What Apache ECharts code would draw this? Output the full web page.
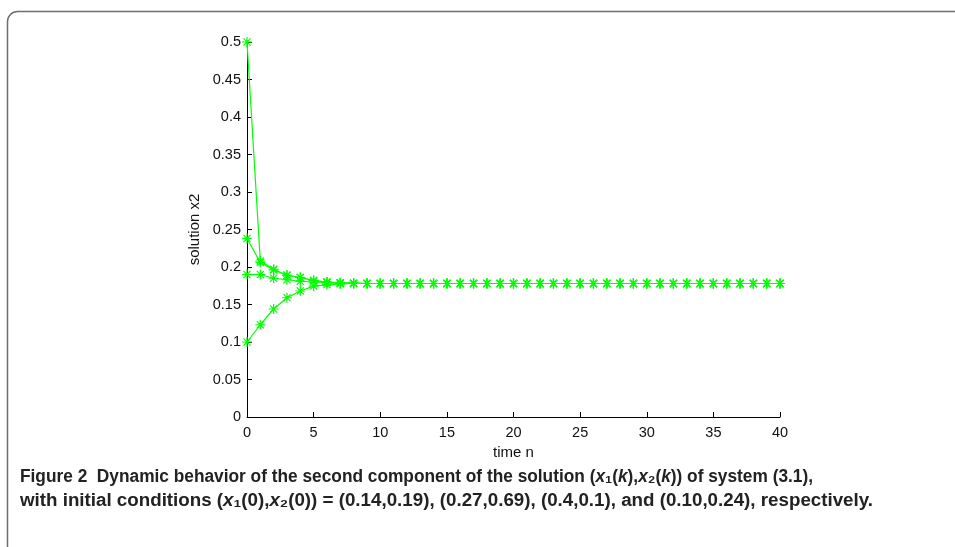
<!DOCTYPE html>
<html>
<head>
<meta charset="utf-8">
<script src="https://cdn.jsdelivr.net/npm/echarts@6/dist/echarts.min.js"></script>
<style>
html,body{margin:0;padding:0;background:#fff;}
#chart{width:955px;height:547px;}
</style>
</head>
<body>
<div id="chart"></div>
<script>
// time steps 0..40
const steps = Array.from({length: 41}, (_, i) => i);
const yTicks = [0, 0.05, 0.1, 0.15, 0.2, 0.25, 0.3, 0.35, 0.4, 0.45, 0.5];

// values (first 9 steps), then equilibrium ~0.178
const tailValues = [0.178,0.178,0.178,0.178,0.178,0.178,0.178,0.178,0.178,0.178,0.178,0.178,0.178,0.178,0.178,0.178,0.178,0.178,0.178,0.178,0.178,0.178,0.178,0.178,0.178,0.178,0.178,0.178,0.178,0.178,0.178,0.178];
const seriesA = [0.5, 0.208, 0.197, 0.189, 0.186, 0.182, 0.180, 0.179, 0.1785].concat(tailValues);
const seriesB = [0.238, 0.206, 0.196, 0.189, 0.186, 0.182, 0.180, 0.179, 0.1785].concat(tailValues);
const seriesC = [0.19, 0.19, 0.185, 0.183, 0.181, 0.180, 0.179, 0.1785, 0.178].concat(tailValues);
const seriesD = [0.1, 0.123, 0.144, 0.159, 0.168, 0.1745, 0.1765, 0.1775, 0.178].concat(tailValues);

const captionLine1 = [['b','Figure 2  Dynamic behavior of the second component of the solution ('],['i','x'],['b','₁('],['i','k'],['b','),'],['i','x'],['b','₂('],['i','k'],['b',')) of system (3.1),']];
const captionLine2 = [['b','with initial conditions ('],['i','x'],['b','₁(0),'],['i','x'],['b','₂(0)) = (0.14,0.19), (0.27,0.69), (0.4,0.1), and (0.10,0.24), respectively.']];

const star = 'path://M0 10L20 10M10 0L10 20M2.9 2.9L17.1 17.1M17.1 2.9L2.9 17.1';
const green = '#00ff00';

function mk(vals) {
  return {
    type: 'line',
    data: steps.map((s, i) => [s, vals[i]]),
    symbol: star,
    symbolSize: 10,
    showAllSymbol: true,
    itemStyle: {color: 'rgba(0,0,0,0)', borderColor: green, borderWidth: 1.2},
    lineStyle: {color: green, width: 1.2},
    emphasis: {disabled: true},
    silent: true,
    animation: false
  };
}

const capFont = "'Liberation Sans', Arial, sans-serif";
const capSize = 18;
const measureCtx = document.createElement('canvas').getContext('2d');
function capWidth(parts) {
  let w = 0;
  parts.forEach(([k, t]) => {
    measureCtx.font = (k === 'i' ? 'italic ' : '') + 'bold ' + capSize + 'px ' + capFont;
    w += measureCtx.measureText(t).width;
  });
  return w;
}
function capText(parts) {
  return parts.map(([k, t]) => '{' + k + '|' + t + '}').join('');
}
const capRich = {
  b: {fontFamily: capFont, fontWeight: 'bold', fontSize: capSize, fill: '#222'},
  i: {fontFamily: capFont, fontWeight: 'bold', fontStyle: 'italic', fontSize: capSize, fill: '#222'}
};
const capScale1 = 793 / capWidth(captionLine1);
const capScale2 = 853 / capWidth(captionLine2);

const chart = echarts.init(document.getElementById('chart'), null, {renderer: 'canvas'});
const font = 'Liberation Sans, Arial, sans-serif';
chart.setOption({
  animation: false,
  backgroundColor: '#fff',
  grid: {left: 247, right: 175, top: 42, bottom: 130},
  xAxis: {
    type: 'value', min: 0, max: 40, interval: 5,
    name: 'time n', nameLocation: 'middle', nameGap: 17,
    nameTextStyle: {fontFamily: font, fontSize: 15, color: '#111'},
    axisLine: {show: true, lineStyle: {color: '#000', width: 1}},
    axisTick: {show: true, inside: true, length: 5, lineStyle: {color: '#000'}},
    axisLabel: {fontFamily: font, fontSize: 14.5, color: '#111', margin: 8},
    splitLine: {show: false}
  },
  yAxis: {
    type: 'value', min: 0, max: 0.5, interval: 0.05,
    name: 'solution x2', nameLocation: 'middle', nameGap: 42, nameRotate: 90,
    nameTextStyle: {fontFamily: font, fontSize: 15, color: '#111'},
    axisLine: {show: true, lineStyle: {color: '#000', width: 1}},
    axisTick: {show: true, inside: true, length: 5, lineStyle: {color: '#000'}},
    axisLabel: {fontFamily: font, fontSize: 14.5, color: '#111', margin: 6,
      formatter: v => String(+v.toFixed(2))},
    splitLine: {show: false}
  },
  series: [mk(seriesA), mk(seriesB), mk(seriesC), mk(seriesD)],
  graphic: [
    {type: 'rect', shape: {x: 7.5, y: 11.5, width: 1100, height: 700, r: 10},
     style: {fill: 'none', stroke: '#6e6e6e', lineWidth: 1.5}, silent: true},
    {type: 'text', x: 20, y: 477, scaleX: capScale1,
     style: {text: capText(captionLine1), rich: capRich, verticalAlign: 'middle'}},
    {type: 'text', x: 20, y: 501, scaleX: capScale2,
     style: {text: capText(captionLine2), rich: capRich, verticalAlign: 'middle'}}
  ]
});
</script>
</body>
</html>
